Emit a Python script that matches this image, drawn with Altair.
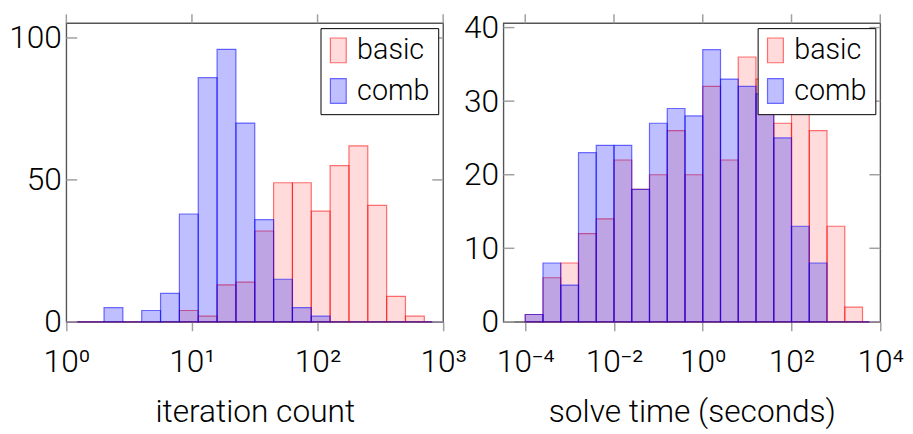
import altair as alt
import pandas as pd

# ---------------- data (counts per log10-bin) ----------------
# left panel: iteration count, 20 bins of width 0.15 decades from 10^0
iter_bin_start = 0.0
iter_bin_width = 0.15
iter_basic = [0, 0, 0, 0, 0, 0, 4, 2, 13, 14, 32, 49, 49, 39, 55, 62, 41, 9, 2, 0]
iter_comb = [0, 0, 5, 0, 4, 10, 38, 86, 96, 70, 36, 15, 5, 2, 0, 0, 0, 0, 0, 0]

# right panel: solve time, 20 bins of width 0.4 decades from 10^-4
time_bin_start = -4.0
time_bin_width = 0.4
time_basic = [1, 6, 8, 12, 14, 22, 18, 20, 26, 20, 32, 22, 36, 33, 27, 32, 26, 13, 2, 0]
time_comb = [1, 8, 5, 23, 24, 24, 18, 27, 29, 28, 37, 33, 32, 31, 25, 13, 8, 0, 0, 0]

series_names = ["basic", "comb"]
iter_xticks = [1, 10, 100, 1000]
time_xticks = [1e-4, 1e-2, 1, 1e2, 1e4]
iter_yticks = [0, 50, 100]
time_yticks = [0, 10, 20, 30, 40]

FONT = "Roboto"
W, H = 381, 302
TICK = "#a0a0a0"


def make_frame(start, width, basic, comb):
    rows = []
    for name, counts in zip(series_names, (basic, comb)):
        for i, c in enumerate(counts):
            lo = start + i * width
            rows.append({"series": name, "lo": 10 ** lo, "hi": 10 ** (lo + width),
                         "count": c, "base": 0})
    return pd.DataFrame(rows)


LABEL_EXPR = ("'10' + (datum.value < 1 ? '\u207b' : '') + "
              "['\u2070','\u00b9','\u00b2','\u00b3','\u2074'][abs(round(log(datum.value)/LN10))]")


def panel(df, xdomain, xticks, ymax, yticks, xtitle):
    xs = alt.Scale(type="log", domain=xdomain, nice=False)
    ys = alt.Scale(domain=[0, ymax], nice=False, zero=False)
    xaxis = alt.Axis(values=xticks, labelExpr=LABEL_EXPR, title=xtitle, tickSize=9,
                     tickWidth=1.5, tickColor=TICK, labelFlush=False, labelOverlap=False,
                     labelPadding=16, titlePadding=20, domain=False, grid=False)
    yaxis = alt.Axis(values=yticks, title=None, ticks=False, labelPadding=5,
                     labelOverlap=False, domain=False, grid=False)
    leg = alt.Legend(title=None, orient="top-right", offset=5,
                     symbolType="M-1,-1L0.28,-1L0.28,1L-1,1Z", symbolSize=625,
                     symbolStrokeWidth=1.2, labelFont=FONT, labelFontSize=29,
                     labelFontWeight=300, labelColor="black", labelOffset=0,
                     rowPadding=10, padding=8, fillColor="white", strokeColor="black",
                     cornerRadius=0)
    fill_scale = alt.Scale(domain=series_names,
                           range=["rgba(255,0,0,0.14)", "rgba(0,0,255,0.25)"])
    stroke_scale = alt.Scale(domain=series_names,
                             range=["rgba(255,0,0,0.55)", "rgba(0,0,255,0.55)"])
    bars = alt.Chart(df).mark_rect(strokeWidth=1.2).encode(
        x=alt.X("lo:Q", scale=xs, axis=xaxis),
        x2="hi:Q",
        y=alt.Y("count:Q", scale=ys, axis=yaxis),
        y2="base:Q",
        fill=alt.Fill("series:N", scale=fill_scale, legend=leg),
        stroke=alt.Stroke("series:N", scale=stroke_scale, legend=leg),
    )
    ytick_df = pd.DataFrame({"t": yticks})
    yl = alt.Chart(ytick_df).mark_rule(color=TICK, strokeWidth=1.5).encode(
        y=alt.Y("t:Q", scale=ys, axis=yaxis), x=alt.value(0), x2=alt.value(11))
    yr = alt.Chart(ytick_df).mark_rule(color=TICK, strokeWidth=1.5).encode(
        y=alt.Y("t:Q", scale=ys, axis=yaxis), x=alt.value(W - 11), x2=alt.value(W))
    xt = alt.Chart(pd.DataFrame({"t": xticks})).mark_rule(color=TICK, strokeWidth=1.5).encode(
        x=alt.X("t:Q", scale=xs, axis=xaxis), y=alt.value(-9), y2=alt.value(0))
    return alt.layer(bars, yl, yr, xt).properties(width=W, height=H)


left = panel(make_frame(iter_bin_start, iter_bin_width, iter_basic, iter_comb),
             [1, 1000], iter_xticks, 105.2, iter_yticks, "iteration count")
right = panel(make_frame(time_bin_start, time_bin_width, time_basic, time_comb),
              [10 ** -4.49, 1e4], time_xticks, 40.6, time_yticks, "solve time (seconds)")

chart = (
    alt.hconcat(left, right, spacing=61, bounds="flush")
    .resolve_scale(x="independent", y="independent", fill="independent", stroke="independent")
    .resolve_legend(fill="independent", stroke="independent")
    .properties(padding={"left": 0, "top": 0, "right": 0, "bottom": 0})
    .configure_view(stroke="#555555", strokeWidth=1.4)
    .configure_axis(labelFont=FONT, labelFontSize=32, labelFontWeight=300, labelColor="black",
                    titleFont=FONT, titleFontSize=32, titleFontWeight=300, titleColor="black")
)

chart.save("out.html", embed_options={"renderer": "svg", "actions": False})
